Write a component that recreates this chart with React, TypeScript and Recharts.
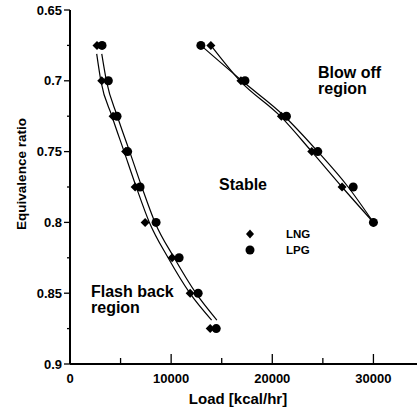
import React from "react";
import { ComposedChart, XAxis, YAxis, Line, Scatter } from "recharts";

// equivalence ratio levels where the measurements were taken
const flashPhi = [0.675, 0.7, 0.725, 0.75, 0.775, 0.8, 0.825, 0.85, 0.875];
const lngFlashLoad = [2670, 3140, 4260, 5500, 6440, 7430, 10100, 11880, 13860];
const lpgFlashLoad = [3170, 3790, 4650, 5700, 6930, 8510, 10790, 12670, 14460];

const blowPhi = [0.675, 0.7, 0.725, 0.75, 0.775, 0.8];
const lngBlowLoad = [13930, 16900, 20900, 23900, 26900, 30000];
const lpgBlowLoad = [12940, 17300, 21400, 24500, 28000, 30000];

// fitted curves
const flashFitPhi = [0.681, 0.7, 0.725, 0.75, 0.775, 0.8, 0.825, 0.85, 0.869];
const lngFlashFit = [2640, 3050, 4150, 5350, 6550, 7850, 9700, 11850, 14000];
const lpgFlashFit = [3140, 3600, 4680, 5900, 7100, 8400, 10300, 12450, 14520];

const blowFitPhi = [0.675, 0.7, 0.725, 0.75, 0.775, 0.8];
const lngBlowFit = [13930, 16800, 20800, 23900, 26900, 30000];
const lpgBlowFit = [12940, 17000, 21200, 24500, 27500, 30000];

const xTicks = [0, 5000, 10000, 15000, 20000, 25000, 30000];
const yTicks = [0.65, 0.675, 0.7, 0.725, 0.75, 0.775, 0.8, 0.825, 0.85, 0.875, 0.9];

const FONT = "'Liberation Sans', Arial, sans-serif";

const pts = (xs: number[], ys: number[]) => xs.map((x, i) => ({ x, y: ys[i] }));

const majorX = (v: number) => v % 10000 === 0;
const majorY = (v: number) => Math.abs(v * 20 - Math.round(v * 20)) < 1e-6;

function BottomTick({ x, y, payload }: any) {
  const v = payload.value;
  const len = majorX(v) ? 10 : 6;
  return (
    <g>
      <line x1={x} y1={y} x2={x} y2={y - len} stroke="#000" strokeWidth={1.3} />
      {majorX(v) && (
        <text x={x} y={y + 19} textAnchor="middle" fontFamily={FONT} fontWeight="bold" fontSize={13} fill="#000">
          {v}
        </text>
      )}
    </g>
  );
}

function TopTick({ x, y, payload }: any) {
  const len = majorX(payload.value) ? 10 : 5;
  return <line x1={x} y1={y} x2={x} y2={y + len} stroke="#000" strokeWidth={1.2} />;
}

function LeftTick({ x, y, payload }: any) {
  const v = payload.value;
  const len = majorY(v) ? 6 : 3;
  return (
    <g>
      <line x1={x} y1={y} x2={x - len} y2={y} stroke="#000" strokeWidth={1.3} />
      {majorY(v) && (
        <text x={x - 8} y={y} dy="0.36em" textAnchor="end" fontFamily={FONT} fontWeight="bold" fontSize={13} fill="#000">
          {String(Number(v.toFixed(3)))}
        </text>
      )}
    </g>
  );
}

function RightTick({ x, y, payload }: any) {
  const len = majorY(payload.value) ? 13 : 5;
  return <line x1={x} y1={y} x2={x - len} y2={y} stroke="#000" strokeWidth={1.2} />;
}

function Diamond({ cx, cy }: any) {
  return <polygon points={`${cx},${cy - 4.5} ${cx + 4.5},${cy} ${cx},${cy + 4.5} ${cx - 4.5},${cy}`} fill="#000" />;
}

function Dot({ cx, cy }: any) {
  return <circle cx={cx} cy={cy} r={4.5} fill="#000" />;
}

export default function App() {
  return (
    <div style={{ position: "fixed", left: 0, top: 0, width: 417, height: 412, overflow: "hidden", background: "#fff" }}>
      <ComposedChart width={430} height={412} margin={{ top: 10, right: 6, bottom: 0, left: 0 }}>
        <XAxis
          dataKey="x"
          type="number"
          domain={[0, 35000]}
          ticks={xTicks}
          interval={0}
          height={48}
          tickSize={0}
          tickMargin={0}
          tick={<BottomTick />}
          axisLine={{ stroke: "#000", strokeWidth: 2 }}
          allowDataOverflow
        />
        <XAxis
          xAxisId="top"
          orientation="top"
          dataKey="x"
          type="number"
          domain={[0, 35000]}
          ticks={xTicks}
          interval={0}
          height={0}
          tickSize={0}
          tickMargin={0}
          tick={<TopTick />}
          axisLine={{ stroke: "#444", strokeWidth: 1 }}
          allowDataOverflow
        />
        <YAxis
          dataKey="y"
          type="number"
          reversed
          domain={[0.65, 0.9]}
          ticks={yTicks}
          interval={0}
          width={70}
          tickSize={0}
          tickMargin={0}
          tick={<LeftTick />}
          axisLine={{ stroke: "#000", strokeWidth: 2 }}
          allowDataOverflow
        />
        <YAxis
          yAxisId="right"
          orientation="right"
          dataKey="y"
          type="number"
          reversed
          domain={[0.65, 0.9]}
          ticks={yTicks}
          interval={0}
          width={0}
          tickSize={0}
          tickMargin={0}
          tick={<RightTick />}
          axisLine={{ stroke: "#000", strokeWidth: 1.5 }}
          allowDataOverflow
        />
        <Line data={pts(lngFlashFit, flashFitPhi)} dataKey="y" type="monotone" stroke="#000" strokeWidth={1.2} dot={false} isAnimationActive={false} />
        <Line data={pts(lpgFlashFit, flashFitPhi)} dataKey="y" type="monotone" stroke="#000" strokeWidth={1.2} dot={false} isAnimationActive={false} />
        <Line data={pts(lngBlowFit, blowFitPhi)} dataKey="y" type="monotone" stroke="#000" strokeWidth={1.2} dot={false} isAnimationActive={false} />
        <Line data={pts(lpgBlowFit, blowFitPhi)} dataKey="y" type="monotone" stroke="#000" strokeWidth={1.2} dot={false} isAnimationActive={false} />
        <Scatter data={pts(lngFlashLoad, flashPhi)} dataKey="y" shape={<Diamond />} isAnimationActive={false} />
        <Scatter data={pts(lpgFlashLoad, flashPhi)} dataKey="y" shape={<Dot />} isAnimationActive={false} />
        <Scatter data={pts(lngBlowLoad, blowPhi)} dataKey="y" shape={<Diamond />} isAnimationActive={false} />
        <Scatter data={pts(lpgBlowLoad, blowPhi)} dataKey="y" shape={<Dot />} isAnimationActive={false} />
      </ComposedChart>
      <svg width={417} height={412} style={{ position: "absolute", left: 0, top: 0, pointerEvents: "none" }}>
        <g fontFamily={FONT} fill="#000">
          <text x={318} y={78} fontSize={16} fontWeight="bold">Blow off</text>
          <text x={318} y={94} fontSize={16} fontWeight="bold">region</text>
          <text x={219} y={190} fontSize={16} fontWeight="bold">Stable</text>
          <text x={91} y={297} fontSize={16} fontWeight="bold">Flash back</text>
          <text x={91} y={313} fontSize={16} fontWeight="bold">region</text>
          <polygon points="250,229.5 254,234 250,238.5 246,234" />
          <circle cx={250} cy={250} r={4.5} />
          <text x={286} y={238} fontSize={11.5} fontWeight="bold">LNG</text>
          <text x={286} y={254} fontSize={11.5} fontWeight="bold">LPG</text>
          <text x={238} y={404} fontSize={15} fontWeight="bold" textAnchor="middle">Load [kcal/hr]</text>
          <text x={21} y={174} dy="0.36em" fontSize={13.5} fontWeight="bold" textAnchor="middle" transform="rotate(-90, 21, 174)">
            Equivalence ratio
          </text>
        </g>
      </svg>
    </div>
  );
}
